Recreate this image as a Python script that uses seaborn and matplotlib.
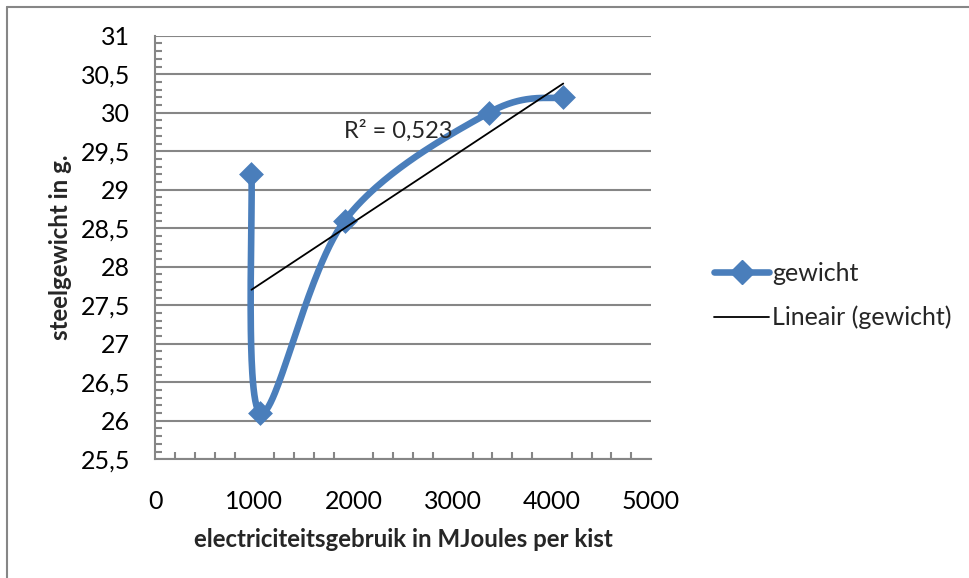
import numpy as np
import pandas as pd
import matplotlib
matplotlib.use("Agg")
import matplotlib.pyplot as plt
from matplotlib.lines import Line2D
from matplotlib.ticker import MultipleLocator, FuncFormatter
import seaborn as sns

# ---- data ----
elektriciteit = [970, 1060, 1910, 3365, 4115]
gewicht = [29.2, 26.1, 28.6, 30.0, 30.2]
series_label = "gewicht"
trend_label = "Lineair (gewicht)"
r2_text = "R² = 0,523"
x_label = "electriciteitsgebruik in MJoules per kist"
y_label = "steelgewicht in g."
x_ticks = [0, 1000, 2000, 3000, 4000, 5000]
y_ticks = [25.5, 26, 26.5, 27, 27.5, 28, 28.5, 29, 29.5, 30, 30.5, 31]

df = pd.DataFrame({"x": elektriciteit, "y": gewicht})

sns.set_theme(style="white")
plt.rcParams["font.family"] = ["Lato", "DejaVu Sans"]

BLUE = "#4A7EBB"
GRID = "#868686"
FS_TICK = 18
FS_TITLE = 17.3
FS_LEG = 18

fig = plt.figure(figsize=(9.70, 5.78), dpi=100)
ax = fig.add_axes([155.3 / 970, 1 - 459.3 / 578, (651 - 155.3) / 970, (459.3 - 35.7) / 578])


def excel_smooth(xs, ys, n=60):
    P = np.column_stack([np.asarray(xs, float), np.asarray(ys, float)])
    Pext = np.vstack([P[0], P, P[-1]])
    out = []
    t = np.linspace(0, 1, n)[:, None]
    for i in range(len(P) - 1):
        p0, p1, p2, p3 = Pext[i], Pext[i + 1], Pext[i + 2], Pext[i + 3]
        c1 = p1 + (p2 - p0) / 6.0
        c2 = p2 - (p3 - p1) / 6.0
        seg = ((1 - t) ** 3) * p1 + 3 * ((1 - t) ** 2) * t * c1 + 3 * (1 - t) * t ** 2 * c2 + t ** 3 * p2
        out.append(seg if i == 0 else seg[1:])
    seg = np.vstack(out)
    return seg[:, 0], seg[:, 1]


cx, cy = excel_smooth(df["x"], df["y"])
smooth = pd.DataFrame({"x": cx, "y": cy})

ax.set_axisbelow(True)
ax.yaxis.grid(True, color=GRID, lw=1.5)
ax.xaxis.grid(False)

sns.lineplot(data=smooth, x="x", y="y", sort=False, estimator=None, ax=ax,
             color=BLUE, lw=4.75, solid_capstyle="round", zorder=3)
sns.scatterplot(data=df, x="x", y="y", marker="D", s=160, color=BLUE,
                edgecolor=BLUE, linewidth=0, ax=ax, zorder=4)
sns.regplot(data=df, x="x", y="y", scatter=False, ci=None, truncate=True, ax=ax,
            line_kws={"color": "black", "lw": 1.3, "zorder": 5})

ax.set_xlim(0, 5000)
ax.set_ylim(25.5, 31)
ax.set_xticks(x_ticks)
ax.set_yticks(y_ticks)
ax.xaxis.set_minor_locator(MultipleLocator(200))
ax.yaxis.set_minor_locator(MultipleLocator(0.1))
ax.yaxis.set_major_formatter(FuncFormatter(lambda v, p: ("%g" % v).replace(".", ",")))
ax.xaxis.set_major_formatter(FuncFormatter(lambda v, p: "%d" % v))

for side in ["top", "right"]:
    ax.spines[side].set_visible(False)
for side in ["left", "bottom"]:
    ax.spines[side].set_color(GRID)
    ax.spines[side].set_linewidth(1.5)

ax.tick_params(axis="both", which="major", labelsize=FS_TICK, colors=GRID, labelcolor="black")
ax.tick_params(axis="y", which="major", direction="in", length=0, pad=18)
ax.tick_params(axis="x", which="major", direction="in", length=0, pad=22)
ax.tick_params(axis="both", which="minor", direction="in", length=5, width=1.5, colors=GRID,
               bottom=True, left=True)

ax.set_xlabel(x_label, fontsize=FS_TITLE, fontweight="bold", labelpad=11)
ax.set_ylabel(y_label, fontsize=FS_TITLE, fontweight="bold", labelpad=6)

ax.text(3000, 29.76, r2_text, fontsize=17, ha="right", va="center")

handles = [
    Line2D([0], [0], color=BLUE, lw=4.75, marker="D", markersize=12, markerfacecolor=BLUE,
           markeredgecolor=BLUE),
    Line2D([0], [0], color="black", lw=1.3),
]
fig.legend(handles, [series_label, trend_label], loc="center left",
           bbox_to_anchor=(714 / 970, 1 - 295.5 / 578), frameon=False, fontsize=FS_LEG,
           handlelength=2.2, handletextpad=0.12, labelspacing=0.85, borderpad=0,
           borderaxespad=0)

# chart area border (top and left edges visible)
fig.add_artist(Line2D([7 / 970, 1.0], [1 - 7 / 578, 1 - 7 / 578], transform=fig.transFigure,
                      color=GRID, lw=1.5))
fig.add_artist(Line2D([7 / 970, 7 / 970], [0.0, 1 - 7 / 578], transform=fig.transFigure,
                      color=GRID, lw=1.5))

fig.savefig("out.png", dpi=100)
